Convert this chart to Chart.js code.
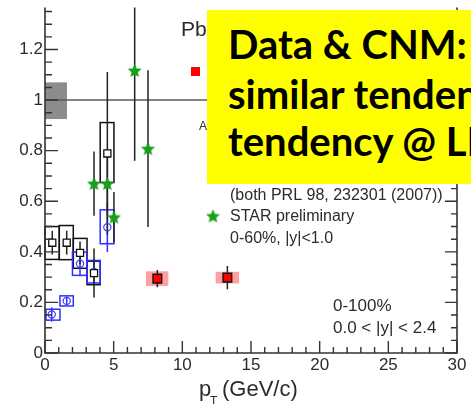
<!DOCTYPE html>
<html><head><meta charset="utf-8">
<script src="https://cdn.jsdelivr.net/npm/chart.js@4/dist/chart.umd.min.js"></script>
<style>
html,body{margin:0;padding:0;background:#fff;}
#wrap{position:relative;width:471px;height:404px;overflow:hidden;background:#fff;}
#c{position:absolute;left:0;top:0;}
#note{position:absolute;left:207px;top:10px;width:264px;height:174px;background:#ffff00;overflow:hidden;}
#note div{position:absolute;left:21px;white-space:nowrap;font-family:Lato,'Liberation Sans',sans-serif;font-weight:bold;font-size:40px;line-height:40px;color:#000;}
</style></head>
<body>
<div id="wrap">
<canvas id="c" width="471" height="404"></canvas>
<div id="note"><div style="top:14px">Data &amp; CNM:</div><div style="top:64px">similar tendency</div><div style="top:111px">tendency @ LHC</div></div>
</div>
<script>
// ---- tick labels ----
const xTickValues = [0, 5, 10, 15, 20, 25, 30];
const xTickLabels = ['0', '5', '10', '15', '20', '25', '30'];
const yTickValues = [0, 0.2, 0.4, 0.6, 0.8, 1.0, 1.2];
const yTickLabels = ['0', '0.2', '0.4', '0.6', '0.8', '1', '1.2'];

// ---- CMS (red squares, pink syst. boxes) ----
const cmsPt      = [8.18, 13.28];
const cmsRaa     = [0.294, 0.298];
const cmsStat    = [0.034, 0.046];
const cmsSyst    = [0.029, 0.023];
const cmsBoxLo   = [7.35, 12.43];
const cmsBoxHi   = [8.98, 14.13];

// ---- PHENIX |y|<0.35 (black open squares) ----
const phxMidPt    = [0.53, 1.58, 2.55, 3.57, 4.54];
const phxMidRaa   = [0.436, 0.436, 0.396, 0.316, 0.789];
const phxMidStat  = [0.047, 0.047, 0.045, 0.097, 0.322];
const phxMidSystLo= [0.370, 0.369, 0.335, 0.270, 0.674];
const phxMidSystHi= [0.500, 0.504, 0.453, 0.363, 0.911];
const phxMidBoxLo = [0.00, 1.04, 2.06, 3.06, 4.02];
const phxMidBoxHi = [1.04, 2.06, 3.06, 4.02, 5.02];

// ---- PHENIX 1.2<|y|<2.2 (blue open circles) ----
const phxFwdPt    = [0.49, 1.58, 2.55, 3.57, 4.54];
const phxFwdRaa   = [0.152, 0.206, 0.353, 0.320, 0.497];
const phxFwdStat  = [0.028, 0.017, 0.050, 0.045, 0.098];
const phxFwdSystLo= [0.130, 0.186, 0.307, 0.277, 0.432];
const phxFwdSystHi= [0.173, 0.226, 0.399, 0.366, 0.566];
const phxFwdBoxLo = [0.07, 1.09, 2.00, 3.06, 4.02];
const phxFwdBoxHi = [1.09, 2.06, 3.06, 4.02, 5.02];

// ---- STAR preliminary (green stars) ----
const starPt   = [3.57, 4.54, 5.02, 6.53, 7.50];
const starRaa  = [0.670, 0.670, 0.537, 1.117, 0.808];
const starStat = [0.127, 0.127, 0.100, 0.357, 0.310];

// ---- global normalisation uncertainty ----
const normBoxX = [0, 1.6];
const normBoxY = [0.925, 1.07];

function makeStar(size, color){
  const cv = document.createElement('canvas');
  cv.width = size; cv.height = size;
  const g = cv.getContext('2d');
  const cx = size/2, cy = size/2 + 0.6, R = size/2 - 0.2, r = R*0.46;
  g.beginPath();
  for(let i=0;i<10;i++){
    const a = -Math.PI/2 + i*Math.PI/5;
    const rr = (i%2===0)?R:r;
    const px = cx + rr*Math.cos(a), py = cy + rr*Math.sin(a);
    if(i===0) g.moveTo(px,py); else g.lineTo(px,py);
  }
  g.closePath();
  g.fillStyle = color; g.fill();
  return cv;
}
const starImg = makeStar(15, '#18a018');

const pts = (xs, ys) => xs.map((v,i)=>({x:v, y:ys[i]}));

const AXIS = '#333';
const TEXT = '#2b2b2b';

const deco = {
  id:'deco',
  beforeDatasetsDraw(chart){
    const {ctx, scales:{x, y}} = chart;
    const X = v => x.getPixelForValue(v), Y = v => y.getPixelForValue(v);
    ctx.save();
    // normalisation box
    ctx.fillStyle = '#8c8c8c';
    ctx.fillRect(X(normBoxX[0]), Y(normBoxY[1]), X(normBoxX[1])-X(normBoxX[0]), Y(normBoxY[0])-Y(normBoxY[1]));
    // unity line
    ctx.strokeStyle = '#5a5a5a'; ctx.lineWidth = 1.5;
    ctx.beginPath(); ctx.moveTo(X(0), Y(1)); ctx.lineTo(X(30), Y(1)); ctx.stroke();
    // CMS syst boxes
    ctx.fillStyle = '#ffa0a0';
    cmsPt.forEach((p,i)=>{
      ctx.fillRect(X(cmsBoxLo[i]), Y(cmsRaa[i]+cmsSyst[i]), X(cmsBoxHi[i])-X(cmsBoxLo[i]), Y(cmsRaa[i]-cmsSyst[i])-Y(cmsRaa[i]+cmsSyst[i]));
    });
    // PHENIX boxes
    ctx.lineWidth = 1.5;
    ctx.strokeStyle = '#111';
    phxMidPt.forEach((p,i)=>{
      ctx.strokeRect(X(phxMidBoxLo[i]), Y(phxMidSystHi[i]), X(phxMidBoxHi[i])-X(phxMidBoxLo[i]), Y(phxMidSystLo[i])-Y(phxMidSystHi[i]));
    });
    ctx.strokeStyle = '#2f2fff';
    phxFwdPt.forEach((p,i)=>{
      ctx.strokeRect(X(phxFwdBoxLo[i]), Y(phxFwdSystHi[i]), X(phxFwdBoxHi[i])-X(phxFwdBoxLo[i]), Y(phxFwdSystLo[i])-Y(phxFwdSystHi[i]));
    });
    // error bars
    const bar = (xs, ys, es, col) => {
      ctx.strokeStyle = col; ctx.lineWidth = 1.5;
      xs.forEach((p,i)=>{
        const top = Math.min(ys[i]+es[i], y.max);
        ctx.beginPath(); ctx.moveTo(X(p), Y(top)); ctx.lineTo(X(p), Y(ys[i]-es[i])); ctx.stroke();
      });
    };
    bar(phxFwdPt, phxFwdRaa, phxFwdStat, '#2f2fff');
    bar(phxMidPt, phxMidRaa, phxMidStat, '#222');
    bar(starPt, starRaa, starStat, '#222');
    bar(cmsPt, cmsRaa, cmsStat, '#222');
    ctx.restore();
  },
  afterDatasetsDraw(chart){
    const {ctx, scales:{x, y}} = chart;
    const X = v => x.getPixelForValue(v), Y = v => y.getPixelForValue(v);
    const L = X(0), R = X(30), B = Y(0), T = Y(y.max);
    ctx.save();
    ctx.strokeStyle = AXIS; ctx.lineWidth = 1.6;
    ctx.beginPath();
    ctx.moveTo(L, T); ctx.lineTo(L, B); ctx.lineTo(R, B); ctx.lineTo(R, T);
    ctx.stroke();
    ctx.lineWidth = 1.4;
    ctx.beginPath();
    for(let v=0; v<=30; v+=1){
      const len = (v%5===0)?12:6;
      ctx.moveTo(X(v), B); ctx.lineTo(X(v), B-len);
    }
    for(let k=0; k*0.05 <= y.max; k++){
      const v = k*0.05, len = (k%4===0)?13:7;
      ctx.moveTo(L, Y(v)); ctx.lineTo(L+len, Y(v));
      ctx.moveTo(R, Y(v)); ctx.lineTo(R-len+1, Y(v));
    }
    ctx.stroke();
    // axis title
    ctx.fillStyle = TEXT;
    ctx.textBaseline = 'alphabetic'; ctx.textAlign = 'left';
    ctx.font = '22px "Liberation Sans"';
    ctx.fillText('p', 199, 396);
    ctx.fillText('(GeV/c)', 222, 396);
    ctx.font = '12px "Liberation Sans"';
    ctx.fillText('T', 210, 405);
    // legend / labels
    ctx.font = '21px "Liberation Sans"';
    ctx.fillText('PbPb', 181, 36);
    ctx.font = '12px "Liberation Sans"';
    ctx.fillText('Au+Au', 199, 130);
    ctx.fillStyle = '#ff0000';
    ctx.fillRect(191, 67, 9, 9);
    ctx.fillStyle = TEXT;
    ctx.font = '16px "Liberation Sans"';
    ctx.fillText('(both PRL 98, 232301 (2007))', 230, 200);
    ctx.fillText('STAR preliminary', 230, 221);
    ctx.fillText('0-60%, |y|<1.0', 230, 243);
    ctx.drawImage(starImg, 213-7.5, 216-7.5);
    ctx.font = '17px "Liberation Sans"';
    ctx.fillText('0-100%', 333, 311);
    ctx.fillText('0.0 < |y| < 2.4', 333, 333);
    ctx.restore();
  }
};

new Chart(document.getElementById('c'), {
  type:'scatter',
  data:{ datasets:[
    { label:'CMS', data: pts(cmsPt, cmsRaa), pointStyle:'rect', pointRadius:6.2, backgroundColor:'#ff0000', borderColor:'#111', borderWidth:1.3 },
    { label:'PHENIX |y|<0.35', data: pts(phxMidPt, phxMidRaa), pointStyle:'rect', pointRadius:5, backgroundColor:'#ffffff', borderColor:'#111', borderWidth:1.3 },
    { label:'PHENIX 1.2<|y|<2.2', data: pts(phxFwdPt, phxFwdRaa), pointStyle:'circle', pointRadius:3.6, backgroundColor:'rgba(0,0,0,0)', borderColor:'#3a3aff', borderWidth:1.2 },
    { label:'STAR preliminary', data: pts(starPt, starRaa), pointStyle: starImg }
  ]},
  options:{
    responsive:false, animation:false, events:[],
    layout:{ padding:{ top:6, right:14, left:0, bottom:0 } },
    plugins:{ legend:{display:false}, tooltip:{enabled:false} },
    scales:{
      x:{ type:'linear', min:0, max:30,
        afterBuildTicks: s => { s.ticks = xTickValues.map(v=>({value:v})); },
        afterFit: s => { s.height = 51; s.paddingLeft = 0; s.paddingRight = 0; },
        ticks:{ callback:(v,i)=>xTickLabels[i], autoSkip:false, maxRotation:0, padding:2, color:TEXT, font:{family:'Liberation Sans', size:17} },
        grid:{ display:false, drawTicks:false }, border:{ display:false } },
      y:{ type:'linear', min:0, max:1.366,
        afterBuildTicks: s => { s.ticks = yTickValues.map(v=>({value:v})); },
        afterFit: s => { s.width = 45; s.paddingTop = 0; s.paddingBottom = 0; },
        ticks:{ callback:(v,i)=>yTickLabels[i], autoSkip:false, padding:2, color:TEXT, font:{family:'Liberation Sans', size:17} },
        grid:{ display:false, drawTicks:false }, border:{ display:false } }
    }
  },
  plugins:[deco]
});
</script>
</body></html>
